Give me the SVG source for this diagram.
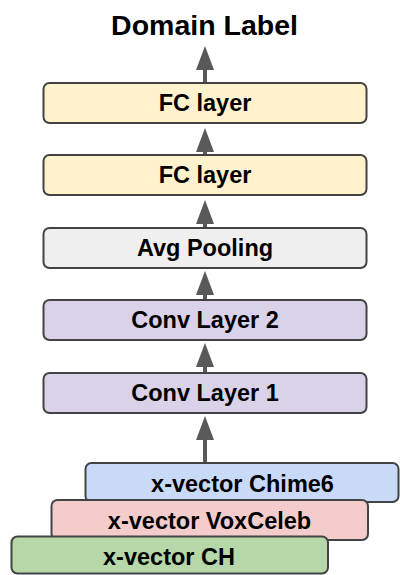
<svg xmlns="http://www.w3.org/2000/svg" width="400" height="575" viewBox="0 0 400 575">
<style>
.box{stroke:#434343;stroke-width:2}
.lbl{font-family:"Liberation Sans",Arial,sans-serif;font-weight:bold;font-size:23.5px;fill:#000;text-anchor:middle}
.title{font-family:"Liberation Sans",Arial,sans-serif;font-weight:bold;font-size:28.5px;fill:#000;text-anchor:middle}
.conn line{stroke:#595959;stroke-width:4;marker-end:url(#ah)}
</style>
<defs>
<marker id="ah" markerUnits="userSpaceOnUse" markerWidth="24" markerHeight="18" refX="1" refY="9" orient="auto">
<path d="M0,0 L24,9 L0,18 z" fill="#595959"/>
</marker>
</defs>
<rect width="400" height="575" fill="#fff"/>
<text class="title" x="204.5" y="35">Domain Label</text>
<g class="conn">
<line x1="205" y1="83" x2="205" y2="69"/>
<line x1="205" y1="155" x2="205" y2="151"/>
<line x1="205" y1="228" x2="205" y2="223"/>
<line x1="205" y1="300" x2="205" y2="294"/>
<line x1="205" y1="373" x2="205" y2="366"/>
<line x1="205" y1="462" x2="205" y2="439"/>
</g>
<g id="fc2"><rect class="box" x="43.5" y="83" width="323" height="40" rx="6" fill="#fff2cc"/><text class="lbl" x="205" y="111.4">FC layer</text></g>
<g id="fc1"><rect class="box" x="43.5" y="155" width="323" height="40" rx="6" fill="#fff2cc"/><text class="lbl" x="205" y="183.4">FC layer</text></g>
<g id="pool"><rect class="box" x="43.5" y="228" width="323" height="40" rx="6" fill="#efefef"/><text class="lbl" x="205" y="256.4">Avg Pooling</text></g>
<g id="conv2"><rect class="box" x="43.5" y="300" width="323" height="40" rx="6" fill="#d9d2e9"/><text class="lbl" x="205" y="328.4">Conv Layer 2</text></g>
<g id="conv1"><rect class="box" x="43.5" y="373" width="323" height="40" rx="6" fill="#d9d2e9"/><text class="lbl" x="205" y="401.4">Conv Layer 1</text></g>
<g id="chime6"><rect class="box" x="85.5" y="463" width="313" height="39" rx="6" fill="#c9daf8"/><text class="lbl" x="242.5" y="491.5">x-vector Chime6</text></g>
<g id="voxceleb"><rect class="box" x="51.5" y="500" width="316.5" height="40" rx="6" fill="#f4cccc"/><text class="lbl" x="209.5" y="529">x-vector VoxCeleb</text></g>
<g id="ch"><rect class="box" x="11.5" y="536.5" width="316.5" height="37" rx="6" fill="#b6d7a8"/><text class="lbl" x="169" y="564.5">x-vector CH</text></g>
</svg>
